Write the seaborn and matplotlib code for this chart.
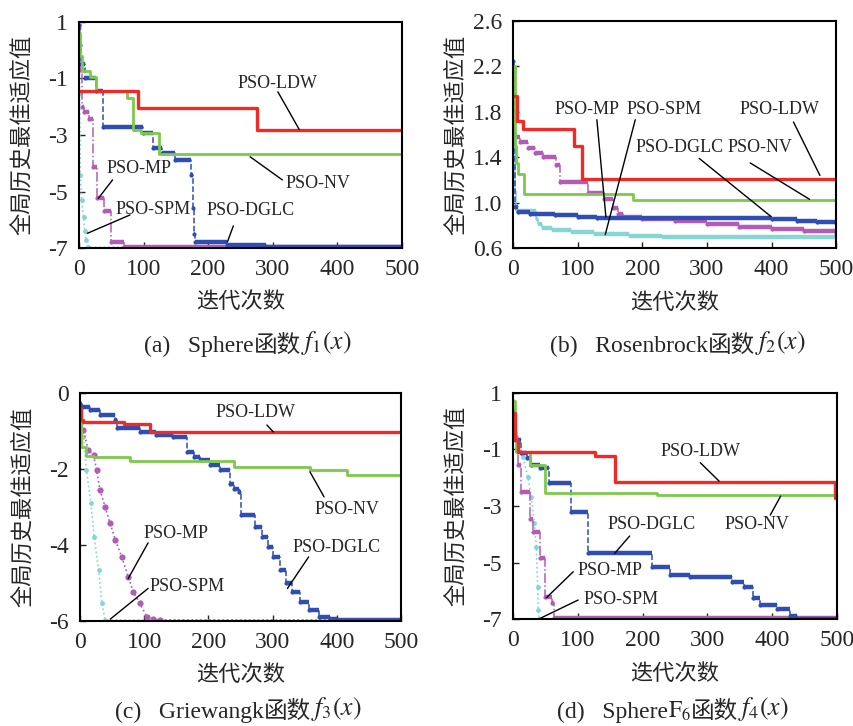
import numpy as np
import seaborn as sns
import matplotlib.pyplot as plt

sns.set_style('ticks')
plt.rcParams['font.family'] = ['Liberation Serif', 'Noto Sans CJK SC']
plt.rcParams['axes.unicode_minus'] = False
plt.rcParams['mathtext.fontset'] = 'stix'

# ---- data (iteration where a level starts, value) ----
# (a) Sphere
a_ldw_x = [0, 92, 275, 500]
a_ldw_y = [-1.45, -2.06, -2.82, -2.82]
a_nv_x = [0, 2, 4, 17, 27, 74, 84, 96, 124, 500]
a_nv_y = [0.6, -0.2, -0.73, -0.94, -1.45, -1.68, -2.82, -2.93, -3.68, -3.68]
a_dglc_x = [0, 1, 3, 10, 27, 37, 99, 115, 128, 148, 173, 176, 178, 180, 230, 290, 300, 500]
a_dglc_y = [0.9, 0.2, -0.49, -0.97, -1.44, -2.70, -2.92, -3.46, -3.63, -3.87, -4.4, -5.6, -6.5,
            -6.8, -6.88, -6.95, -6.97, -6.97]
a_mp_x = [0, 2, 5, 8, 16, 21, 28, 38, 50, 70, 500]
a_mp_y = [0.8, -0.7, -2.02, -2.2, -2.44, -4.12, -5.24, -5.69, -6.8, -6.97, -6.97]
a_spm_x = [0, 1, 2, 4, 7, 9, 11, 14, 500]
a_spm_y = [0.9, -1.5, -4.4, -5.3, -5.9, -6.4, -6.7, -6.97, -6.97]

# (b) Rosenbrock
b_ldw_x = [0, 6, 15, 94, 106, 500]
b_ldw_y = [1.94, 1.72, 1.65, 1.50, 1.21, 1.21]
b_nv_x = [0, 2, 5, 8, 16, 185, 500]
b_nv_y = [2.2, 1.5, 1.35, 1.25, 1.08, 1.02, 1.02]
b_dglc_x = [0, 1, 2, 8, 26, 65, 100, 130, 400, 440, 470, 500]
b_dglc_y = [2.25, 1.6, 0.96, 0.915, 0.905, 0.89, 0.878, 0.865, 0.855, 0.84, 0.828, 0.82]
b_mp_x = [0, 1, 10, 23, 33, 46, 66, 72, 115, 140, 155, 162, 170, 200, 250, 300, 350, 400, 450, 500]
b_mp_y = [1.65, 1.58, 1.53, 1.485, 1.44, 1.40, 1.33, 1.18, 1.09, 1.03, 0.95, 0.90, 0.875, 0.86,
          0.84, 0.815, 0.79, 0.77, 0.75, 0.735]
b_spm_x = [0, 1, 3, 5, 35, 38, 45, 60, 90, 125, 180, 230, 350, 500]
b_spm_y = [2.2, 1.6, 1.1, 0.93, 0.86, 0.81, 0.78, 0.76, 0.74, 0.725, 0.71, 0.70, 0.695, 0.69]

# (c) Griewangk
c_ldw_x = [0, 2, 5, 68, 109, 500]
c_ldw_y = [-0.4, -0.72, -0.76, -0.83, -1.03, -1.03]
c_nv_x = [0, 2, 10, 21, 78, 239, 358, 415, 500]
c_nv_y = [-0.8, -1.42, -1.67, -1.70, -1.79, -1.95, -2.04, -2.17, -2.17]
c_dglc_x = [0, 3, 15, 31, 55, 58, 93, 119, 145, 166, 177, 187, 202, 218, 234, 239, 247, 251, 272,
            283, 293, 301, 311, 320, 330, 343, 356, 372, 390, 400, 500]
c_dglc_y = [-0.3, -0.37, -0.46, -0.59, -0.72, -0.94, -1.03, -1.11, -1.16, -1.55, -1.68, -1.77,
            -1.90, -2.04, -2.39, -2.52, -2.61, -3.22, -3.53, -3.79, -4.05, -4.32, -4.67, -5.02,
            -5.24, -5.5, -5.72, -5.89, -5.96, -5.97, -5.97]
c_mp_x = [0, 5, 13, 21, 26, 31, 39, 47, 55, 65, 75, 83, 93, 104, 114, 125, 500]
c_mp_y = [-0.8, -0.98, -1.51, -1.64, -2.04, -2.56, -3.0, -3.44, -3.88, -4.32, -4.84, -5.24, -5.54,
          -5.89, -5.96, -5.98, -5.98]
c_spm_x = [0, 5, 10, 17, 22, 29, 34, 39, 500]
c_spm_y = [-0.6, -1.16, -2.04, -2.91, -3.79, -4.67, -5.54, -5.98, -5.99]

# (d) SphereF6
d_ldw_x = [0, 3, 8, 126, 157, 497, 500]
d_ldw_y = [0.27, -0.67, -1.08, -1.24, -2.14, -2.73, -2.73]
d_nv_x = [0, 3, 5, 26, 49, 222, 500]
d_nv_y = [0.7, -0.5, -1.08, -1.55, -2.53, -2.61, -2.61]
d_dglc_x = [0, 3, 12, 21, 28, 41, 56, 90, 116, 215, 243, 273, 338, 356, 370, 381, 407, 427, 438, 500]
d_dglc_y = [0.39, -0.67, -1.14, -1.32, -1.55, -1.67, -2.2, -3.2, -4.67, -5.14, -5.44, -5.49, -5.67,
            -5.85, -6.26, -6.49, -6.65, -6.9, -6.99, -6.99]
d_mp_x = [0, 5, 8, 13, 26, 31, 41, 49, 60, 64, 500]
d_mp_y = [-0.2, -0.55, -1.55, -2.49, -3.46, -3.9, -4.85, -6.2, -6.44, -6.97, -6.97]
d_spm_x = [0, 8, 15, 23, 28, 33, 36, 38, 39, 40, 500]
d_spm_y = [0.7, -0.73, -1.26, -1.96, -2.67, -3.61, -4.44, -5.85, -6.67, -6.99, -6.99]

# ---- styles ----
RED, GREEN, BLUE, MAGENTA, CYAN = '#ee2b26', '#7dc94a', '#2f4db3', '#b35cb6', '#86d6d2'


def stepped(ax, x, y, color, thick, ls, marker=None, ms=3):
    # thin connecting line (shows the vertical jumps) + thick horizontal levels
    sns.lineplot(x=x, y=y, ax=ax, color=color, lw=1.1, ls=ls, drawstyle='steps-post',
                 marker=marker, markersize=ms, markeredgewidth=0, sort=False)
    ax.hlines(y[:-1], x[:-1], x[1:], color=color, lw=thick)


def dotted(ax, x, y, color, lw=1.2, ms=3.5):
    sns.lineplot(x=x, y=y, ax=ax, color=color, lw=lw, ls=':', marker='o',
                 markersize=ms, markeredgewidth=0, sort=False)


fig = plt.figure(figsize=(8.54, 7.26), dpi=100)

panels = [
    dict(pos=[0.0925, 0.6584, 0.378, 0.3113], ylim=(-7, 1), yticks=[1, -1, -3, -5, -7], fmt='%d',
         ldw=(a_ldw_x, a_ldw_y), nv=(a_nv_x, a_nv_y), dglc=(a_dglc_x, a_dglc_y),
         mp=(a_mp_x, a_mp_y), spm=(a_spm_x, a_spm_y), mp_step=True, spm_thick=False,
         notes=[('PSO-LDW', (308, -1.17), (308, -1.47), (341, -2.80)),
                ('PSO-NV', (370, -4.71), (315, -4.59), (265, -3.77)),
                ('PSO-MP', (93, -4.18), (52, -4.59), (30, -5.24)),
                ('PSO-SPM', (115, -5.63), (79, -5.83), (13, -6.48)),
                ('PSO-DGLC', (265, -5.68), (239, -6.22), (230, -6.78))],
         cap=['(a)   Sphere', '函数', '$f_1(x)$'], cap_xy=(0.29, 0.508)),
    dict(pos=[0.601, 0.658, 0.378, 0.3135], ylim=(0.6, 2.6),
         yticks=[0.6, 1.0, 1.4, 1.8, 2.2, 2.6], fmt='%.1f',
         ldw=(b_ldw_x, b_ldw_y), nv=(b_nv_x, b_nv_y), dglc=(b_dglc_x, b_dglc_y),
         mp=(b_mp_x, b_mp_y), spm=(b_spm_x, b_spm_y), mp_step=True, spm_thick=True,
         notes=[('PSO-MP', (115, 1.82), (129.5, 1.73), (143.5, 0.875)),
                ('PSO-SPM', (233, 1.82), (189, 1.73), (142.5, 0.72)),
                ('PSO-LDW', (413, 1.82), (434, 1.71), (475, 1.24)),
                ('PSO-DGLC', (258, 1.49), (288, 1.39), (399, 0.88)),
                ('PSO-NV', (382, 1.49), (367, 1.35), (459, 1.03))],
         cap=['(b)   Rosenbrock', '函数', '$f_2(x)$'], cap_xy=(0.794, 0.508)),
    dict(pos=[0.0937, 0.145, 0.376, 0.314], ylim=(-6, 0), yticks=[0, -2, -4, -6], fmt='%d',
         ldw=(c_ldw_x, c_ldw_y), nv=(c_nv_x, c_nv_y), dglc=(c_dglc_x, c_dglc_y),
         mp=(c_mp_x, c_mp_y), spm=(c_spm_x, c_spm_y), mp_step=False, spm_thick=False,
         notes=[('PSO-LDW', (273, -0.53), (291, -0.85), (301, -1.03)),
                ('PSO-NV', (415, -3.07), (380, -2.74), (358, -2.08)),
                ('PSO-MP', (150, -3.70), (106, -3.95), (75, -4.89)),
                ('PSO-SPM', (166, -5.09), (106, -5.15), (47, -5.96)),
                ('PSO-DGLC', (400, -4.07), (356, -4.32), (323, -5.15))],
         cap=['(c)   Griewangk', '函数', '$f_3(x)$'], cap_xy=(0.279, 0.004)),
    dict(pos=[0.6007, 0.147, 0.3794, 0.312], ylim=(-7, 1), yticks=[1, -1, -3, -5, -7], fmt='%d',
         ldw=(d_ldw_x, d_ldw_y), nv=(d_nv_x, d_nv_y), dglc=(d_dglc_x, d_dglc_y),
         mp=(d_mp_x, d_mp_y), spm=(d_spm_x, d_spm_y), mp_step=True, spm_thick=False,
         notes=[('PSO-LDW', (290, -1.06), (289, -1.47), (318, -2.12)),
                ('PSO-NV', (376, -3.67), (397, -3.32), (413, -2.65)),
                ('PSO-DGLC', (214, -3.67), (180, -4.06), (157, -4.67)),
                ('PSO-MP', (149.5, -5.26), (93, -5.32), (51.5, -6.24)),
                ('PSO-SPM', (167.5, -6.29), (100.5, -6.32), (39, -7.0))],
         cap=['(d)   Sphere', r'$\mathrm{F}_6$', '函数', '$f_4(x)$'], cap_xy=(0.788, 0.004)),
]

for p in panels:
    ax = fig.add_axes(p['pos'])
    x, y = p['spm']
    if p['spm_thick']:
        stepped(ax, np.array(x), np.array(y), CYAN, 3.2, '-')
    else:
        dotted(ax, x, y, CYAN)
    x, y = p['mp']
    if p['mp_step']:
        stepped(ax, np.array(x), np.array(y), MAGENTA, 3.2, '-.', marker='o', ms=3)
    else:
        dotted(ax, x, y, MAGENTA, lw=1.2, ms=4.5)
    x, y = p['dglc']
    stepped(ax, np.array(x), np.array(y), BLUE, 3.2, '--', marker='o', ms=3)
    x, y = p['nv']
    sns.lineplot(x=x, y=y, ax=ax, color=GREEN, lw=2.0, drawstyle='steps-post', sort=False)
    x, y = p['ldw']
    sns.lineplot(x=x, y=y, ax=ax, color=RED, lw=2.4, drawstyle='steps-post', sort=False)

    for label, txy, l0, l1 in p['notes']:
        ax.text(txy[0], txy[1], label, ha='center', va='center', fontsize=13)
        ax.annotate('', xy=l1, xytext=l0,
                    arrowprops=dict(arrowstyle='-', color='black', lw=1.0,
                                    shrinkA=0, shrinkB=0))

    ax.set_xlim(0, 500)
    ax.set_ylim(*p['ylim'])
    ax.set_xticks([0, 100, 200, 300, 400, 500])
    ax.set_yticks(p['yticks'])
    ax.set_yticklabels([p['fmt'] % v for v in p['yticks']])
    ax.tick_params(direction='in', length=4, width=1, labelsize=17, pad=8)
    for s in ax.spines.values():
        s.set_linewidth(1.5)
        s.set_color('black')
    ax.set_xlabel('迭代次数', fontsize=16, labelpad=9)
    ax.set_ylabel('全局历史最佳适应值', fontsize=16)
    ax.yaxis.set_label_coords(-0.142, 0.5)

    # caption under the panel, built from pieces so CJK and math both render
    t0 = fig.text(p['cap_xy'][0], p['cap_xy'][1], p['cap'][0], ha='left', va='bottom',
                  fontsize=17)
    pieces = [t0]
    for part in p['cap'][1:]:
        size = 18.5 if part.startswith('$f') else 17
        t = fig.add_artist(plt.Annotation(part, xy=(1, 0), xycoords=pieces[-1], ha='left',
                                          va='bottom', fontsize=size))
        pieces.append(t)
    p['pieces'] = pieces

# centre each caption on its panel position
fig.canvas.draw()
r = fig.canvas.get_renderer()
for p in panels:
    pieces = p['pieces']
    x0 = pieces[0].get_window_extent(r).x0
    x1 = pieces[-1].get_window_extent(r).x1
    w = (x1 - x0) / fig.bbox.width
    pieces[0].set_x(p['cap_xy'][0] - w / 2)

fig.savefig('out.png', dpi=100)
